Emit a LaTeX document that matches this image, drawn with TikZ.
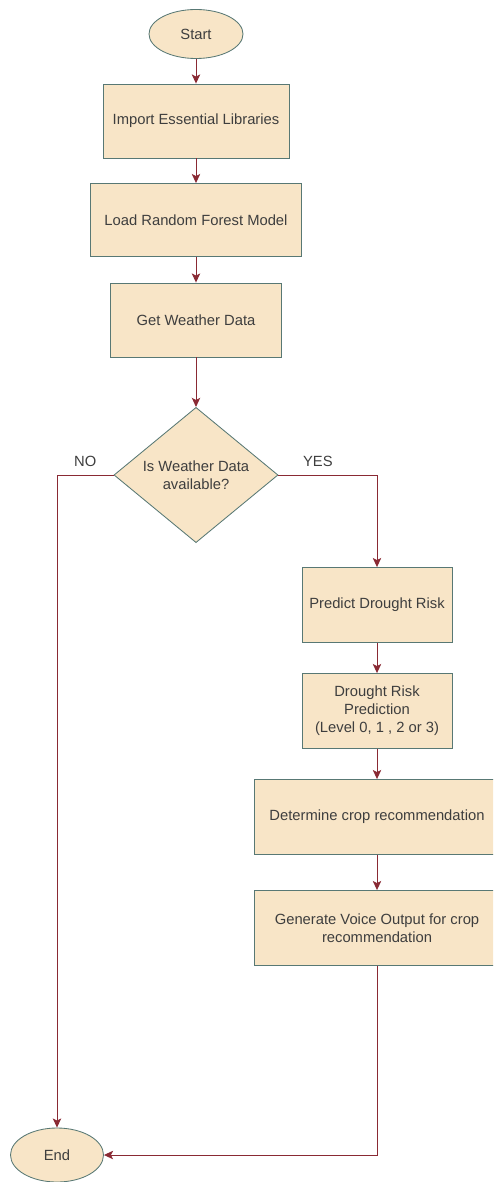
\documentclass[tikz,border=0pt]{standalone}
\usepackage{fontspec}
\setmainfont{Liberation Sans}
\usetikzlibrary{arrows.meta,positioning,shapes.geometric}
\definecolor{boxfill}{RGB}{248,229,199}
\definecolor{boxline}{RGB}{88,120,116}
\definecolor{flow}{RGB}{138,42,52}
\definecolor{txt}{RGB}{62,62,62}
\tikzset{
	box/.style={draw=boxline,fill=boxfill,rectangle,align=center,line width=0.6pt,text=txt,font=\fontsize{10.5}{12.8}\selectfont},
	term/.style={box,ellipse,inner sep=0pt},
	decision/.style={box,diamond,inner sep=0pt},
	lbl/.style={text=txt,inner sep=0pt,font=\fontsize{10.5}{12.8}\selectfont},
	link/.style={draw=flow,line width=0.7pt,-{Stealth[width=6pt,length=6.5pt,inset=1.5pt]}}
}

\begin{document}
\begin{tikzpicture}[x=0.025cm,y=-0.025cm]
			\clip (0,0) rectangle (493,1182);
			\node[term,minimum width=2.35cm,minimum height=1.225cm] (start) at (196,34) {Start};
			\node[box,minimum width=4.65cm,minimum height=1.85cm] (imp) at (196,121) {Import Essential Libraries};
			\node[box,minimum width=5.275cm,minimum height=1.825cm] (load) at (196,220) {Load Random Forest Model};
			\node[box,minimum width=4.275cm,minimum height=1.85cm] (get) at (196,320) {Get Weather Data};
			\node[decision,minimum width=4.1cm,minimum height=3.375cm] (avail) at (196,475) {Is Weather Data\\available?};
			\node[box,minimum width=3.75cm,minimum height=1.875cm] (pred) at (377,605) {Predict Drought Risk};
			\node[box,minimum width=3.75cm,minimum height=1.875cm] (risk) at (377,711) {Drought Risk\\Prediction\\(Level 0, 1 , 2 or 3)};
			\node[box,minimum width=6.15cm,minimum height=1.875cm] (crop) at (377,817) {Determine crop recommendation};
			\node[box,minimum width=6.15cm,minimum height=1.875cm] (voice) at (377,928) {Generate Voice Output for crop\\recommendation};
			\node[term,minimum width=2.325cm,minimum height=1.35cm] (end) at (57,1155) {End};
			
			\draw[link] (start) -- (imp);
			\draw[link] (imp) -- (load);
			\draw[link] (load) -- (get);
			\draw[link] (get) -- (avail);
			\draw[link] (avail.west) -| node[lbl,pos=0.25,above=2mm] {NO} (end.north);
			\draw[link] (avail.east) -| node[lbl,pos=0.2,above=2mm] {YES} (pred.north);
			\draw[link] (pred) -- (risk);
			\draw[link] (risk) -- (crop);
			\draw[link] (crop) -- (voice);
			\draw[link] (voice.south) |- (end.east);
		\end{tikzpicture}
\end{document}
